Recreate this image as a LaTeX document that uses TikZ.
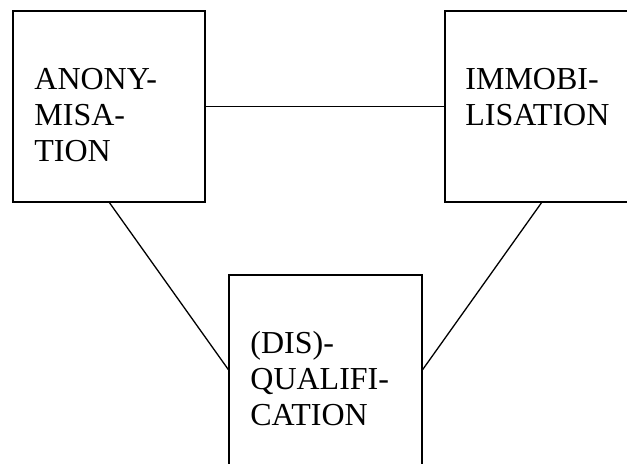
\documentclass[tikz,border=0pt]{standalone}
\usepackage{fontspec}
\setmainfont{Liberation Serif}
\begin{document}
\begin{tikzpicture}[x=0.5pt,y=-0.5pt,
  boxnode/.style={draw=black,line width=0.85pt,inner sep=0pt,outer sep=0pt,minimum height=95.5pt},
  labeltext/.style={anchor=north west,inner sep=0pt,align=left,font=\fontsize{16pt}{18pt}\selectfont},
  link/.style={draw=black,line width=0.65pt}]
\useasboundingbox (0,0) rectangle (627,463);
\clip (0,0) rectangle (627,463);
\node[boxnode,minimum width=96pt] (anon) at (109,106.5) {};
\node[boxnode,minimum width=97pt] (immo) at (542,106.5) {};
\node[boxnode,minimum width=96.5pt] (disq) at (325.5,370.5) {};
\node[labeltext] (anonT) at (34,67.5) {ANONY-\\MISA-\\TION};
\node[labeltext] (immoT) at (465,67.5) {IMMOBI-\\LISATION};
\node[labeltext] (disqT) at (250,331) {(DIS)-\\QUALIFI-\\CATION};
\draw[link] (anon.east) -- (immo.west);
\draw[link] (anon.south) -- (disq.west);
\draw[link] (immo.south) -- (disq.east);
\end{tikzpicture}
\end{document}
